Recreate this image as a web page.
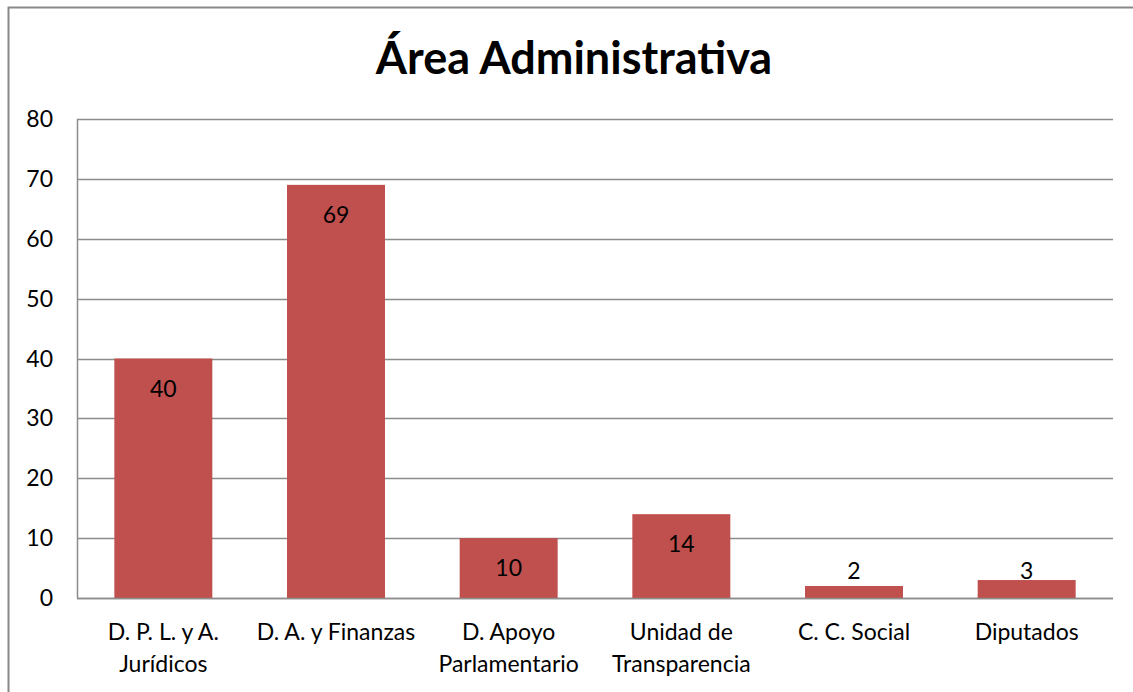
<!DOCTYPE html>
<html>
<head>
<meta charset="utf-8">
<script src="https://cdn.jsdelivr.net/npm/d3@7"></script>
<style>
  html, body { margin: 0; padding: 0; background: #fff; }
  text { font-family: Lato, Carlito, Calibri, sans-serif; }
</style>
</head>
<body>
<div id="svg-container"></div>
<script>
// Data
const categories = [
  ['D. P. L. y A.', 'Jurídicos'],
  ['D. A. y Finanzas'],
  ['D. Apoyo', 'Parlamentario'],
  ['Unidad de', 'Transparencia'],
  ['C. C. Social'],
  ['Diputados'],
]
const values = [40, 69, 10, 14, 2, 3]
const yTicks = [0, 10, 20, 30, 40, 50, 60, 70, 80]
const title = 'Área Administrativa'

const width = 1133
const height = 692

const marginLeft = 77
const marginRight = 20
const marginTop = 119
const marginBottom = 94

const barColor = '#c0504d'
const gridColor = '#8c8c8c'
const labelSize = 23

const svg = d3
  .select('#svg-container')
  .append('svg')
  .attr('width', width)
  .attr('height', height)
  .style('display', 'block')

// outer chart frame (only top and left edges visible in the crop)
svg
  .append('path')
  .attr('d', `M8.5,${height} L8.5,7.5 L${width},7.5`)
  .attr('fill', 'none')
  .attr('stroke', '#888')
  .attr('stroke-width', 2)

svg
  .append('text')
  .attr('x', 574)
  .attr('y', 74)
  .attr('text-anchor', 'middle')
  .attr('font-size', 45)
  .attr('font-weight', 'bold')
  .attr('fill', '#000')
  .text(title)

const keys = categories.map((d, i) => i)

const xScale = d3
  .scaleBand()
  .domain(keys)
  .range([marginLeft, width - marginRight])
  .paddingInner(0.4325)
  .paddingOuter(0.4325 / 2)

const yScale = d3
  .scaleLinear()
  .domain([0, 80])
  .range([height - marginBottom, marginTop])

// gridlines
svg
  .append('g')
  .selectAll('line')
  .data(yTicks)
  .join('line')
  .attr('x1', marginLeft)
  .attr('x2', width - marginRight)
  .attr('y1', d => Math.round(yScale(d)) + 0.5)
  .attr('y2', d => Math.round(yScale(d)) + 0.5)
  .attr('stroke', gridColor)
  .attr('stroke-width', 1.5)

// y axis line
svg
  .append('line')
  .attr('x1', marginLeft + 0.5)
  .attr('x2', marginLeft + 0.5)
  .attr('y1', yScale(80))
  .attr('y2', yScale(0))
  .attr('stroke', gridColor)
  .attr('stroke-width', 1.5)

// y tick labels
svg
  .append('g')
  .selectAll('text')
  .data(yTicks)
  .join('text')
  .attr('x', 53)
  .attr('y', d => yScale(d))
  .attr('dy', '0.35em')
  .attr('text-anchor', 'end')
  .attr('font-size', labelSize)
  .attr('fill', '#000')
  .text(d => d)

// bars
svg
  .append('g')
  .selectAll('rect')
  .data(values)
  .join('rect')
  .attr('x', (d, i) => xScale(i))
  .attr('width', xScale.bandwidth())
  .attr('y', d => yScale(d))
  .attr('height', d => yScale(0) - yScale(d))
  .attr('fill', barColor)

// redraw baseline over bars
svg
  .append('line')
  .attr('x1', marginLeft)
  .attr('x2', width - marginRight)
  .attr('y1', Math.round(yScale(0)) + 0.5)
  .attr('y2', Math.round(yScale(0)) + 0.5)
  .attr('stroke', gridColor)
  .attr('stroke-width', 1.5)

// value labels (inside end, pushed up for short bars)
svg
  .append('g')
  .selectAll('text')
  .data(values)
  .join('text')
  .attr('x', (d, i) => xScale(i) + xScale.bandwidth() / 2)
  .attr('y', d => Math.min(yScale(d) + 30, yScale(0) - 27))
  .attr('dy', '0.35em')
  .attr('text-anchor', 'middle')
  .attr('font-size', labelSize)
  .attr('fill', '#000')
  .text(d => d)

// category labels
const catLabels = svg
  .append('g')
  .selectAll('text')
  .data(categories)
  .join('text')
  .attr('x', (d, i) => xScale(i) + xScale.bandwidth() / 2)
  .attr('y', 640)
  .attr('text-anchor', 'middle')
  .attr('font-size', labelSize)
  .attr('fill', '#000')

catLabels
  .selectAll('tspan')
  .data(d => d)
  .join('tspan')
  .attr('x', function () {
    return this.parentNode.getAttribute('x')
  })
  .attr('dy', (d, i) => (i === 0 ? 0 : 32))
  .text(d => d)
</script>
</body>
</html>
